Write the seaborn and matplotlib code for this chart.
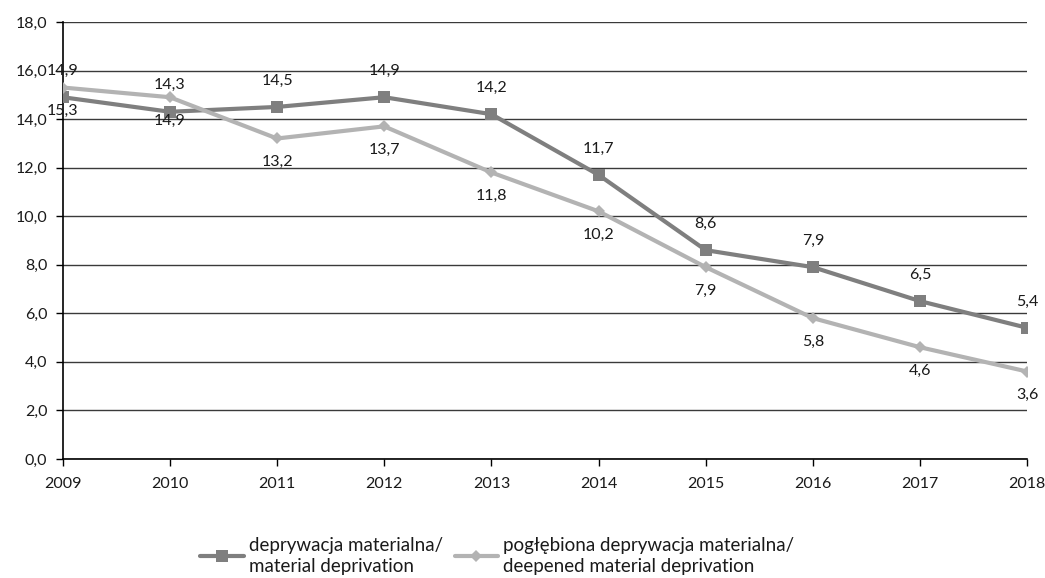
import matplotlib
matplotlib.use("Agg")
import matplotlib.pyplot as plt
import seaborn as sns
import pandas as pd
from matplotlib.ticker import FuncFormatter

years = [2009, 2010, 2011, 2012, 2013, 2014, 2015, 2016, 2017, 2018]
material = [14.9, 14.3, 14.5, 14.9, 14.2, 11.7, 8.6, 7.9, 6.5, 5.4]
deepened = [15.3, 14.9, 13.2, 13.7, 11.8, 10.2, 7.9, 5.8, 4.6, 3.6]
label_material = "deprywacja materialna/\nmaterial deprivation"
label_deepened = "pogłębiona deprywacja materialna/\ndeepened material deprivation"

sns.set_theme(style="white")
plt.rcParams['font.family'] = ['Lato', 'DejaVu Sans']

df = pd.DataFrame({
    "year": years * 2,
    "value": material + deepened,
    "series": [label_material] * len(years) + [label_deepened] * len(years),
})

fig = plt.figure(figsize=(10.45, 5.78), dpi=100)
ax = fig.add_axes([0.060, 0.206, 0.923, 0.756])

dark = "#7f7f7f"
light = "#b3b3b3"

sns.lineplot(data=df, x="year", y="value", hue="series", style="series",
             palette={label_material: dark, label_deepened: light},
             markers={label_material: "s", label_deepened: "D"},
             dashes=False, linewidth=3, markersize=8, markeredgewidth=0,
             ax=ax, legend=True, zorder=3)

for line in ax.get_lines():
    if line.get_marker() == "D":
        line.set_markersize(6.5)

def fmt(v):
    return f"{v:.1f}".replace(".", ",")

for x, v in zip(years, material):
    ax.annotate(fmt(v), (x, v), xytext=(0, 14), textcoords="offset points",
                ha="center", va="bottom", fontsize=11.5, color="#1a1a1a")
for x, v in zip(years, deepened):
    ax.annotate(fmt(v), (x, v), xytext=(0, -12), textcoords="offset points",
                ha="center", va="top", fontsize=11.5, color="#1a1a1a")

ax.set_xlim(2009, 2018)
ax.set_ylim(0, 18)
ax.set_yticks(range(0, 19, 2))
ax.set_xticks(years)
ax.yaxis.set_major_formatter(FuncFormatter(lambda v, p: fmt(v)))
ax.grid(axis="y", color="#3a3a3a", linewidth=1)
ax.set_axisbelow(True)
ax.set_xlabel("")
ax.set_ylabel("")

for s in ["top", "right"]:
    ax.spines[s].set_visible(False)
ax.spines["left"].set_color("black")
ax.spines["bottom"].set_color("black")
ax.spines["left"].set_linewidth(1.2)
ax.spines["bottom"].set_linewidth(1.2)
ax.tick_params(axis="both", which="both", length=5, width=1, color="black",
               labelsize=11.5, labelcolor="#1a1a1a", direction="out",
               bottom=True, left=True)
ax.tick_params(axis="x", pad=8)
ax.tick_params(axis="y", pad=6)

handles, labels = ax.get_legend_handles_labels()
ax.get_legend().remove()
leg = fig.legend(handles, labels, loc="center", bbox_to_anchor=(0.476, 0.038), ncol=2,
                 frameon=False, fontsize=13.5, handlelength=2.3, columnspacing=0.6,
                 handletextpad=0.3)
for t in leg.get_texts():
    t.set_linespacing(1.35)
    t.set_color("#1a1a1a")

fig.savefig("out.png", dpi=100)
